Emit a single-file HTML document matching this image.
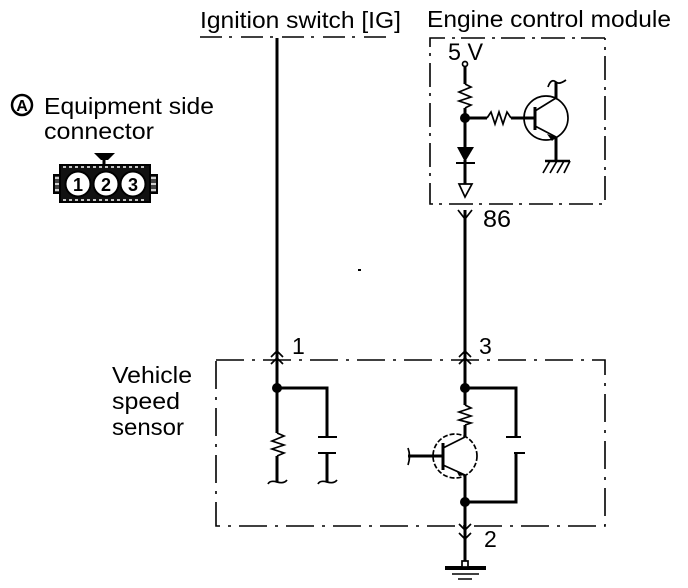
<!DOCTYPE html>
<html><head><meta charset="utf-8"><style>
html,body{margin:0;padding:0;background:#fff}
svg{display:block}
text{font-family:"Liberation Sans",sans-serif;fill:#000;font-size:23px}
</style></head><body>
<svg width="688" height="588" viewBox="0 0 688 588" xmlns="http://www.w3.org/2000/svg">
<text x="200" y="28" textLength="201" lengthAdjust="spacingAndGlyphs">Ignition switch [IG]</text>
<text x="427" y="27" textLength="244" lengthAdjust="spacingAndGlyphs">Engine control module</text>
<text x="44" y="114" textLength="170" lengthAdjust="spacingAndGlyphs">Equipment side</text>
<text x="44" y="139" textLength="110" lengthAdjust="spacingAndGlyphs">connector</text>
<text x="448" y="60" textLength="35" lengthAdjust="spacingAndGlyphs" style="font-size:24px">5 V</text>
<text x="483" y="227" textLength="28" lengthAdjust="spacingAndGlyphs" style="font-size:24px">86</text>
<text x="292" y="354">1</text>
<text x="479" y="354">3</text>
<text x="484" y="547">2</text>
<text x="112" y="383" textLength="80" lengthAdjust="spacingAndGlyphs">Vehicle</text>
<text x="112" y="409" textLength="68" lengthAdjust="spacingAndGlyphs">speed</text>
<text x="112" y="435" textLength="72" lengthAdjust="spacingAndGlyphs">sensor</text>

<!-- circled A -->
<circle cx="22" cy="105" r="10" fill="#fff" stroke="#000" stroke-width="2.5"/>
<text x="22" y="111" text-anchor="middle" style="font-size:16px;font-weight:bold">A</text>

<!-- connector -->
<path d="M60 165H150V202H60Z" fill="#111" stroke="#000" stroke-width="2"/>
<path d="M54 175H60V193H54ZM150 175H157V193H150Z" fill="#444" stroke="#000" stroke-width="2"/>
<path d="M94 153H115L108 160H101Z" fill="#000"/>
<path d="M104 160V166" stroke="#000" stroke-width="3"/>
<path d="M63 167H147M63 200H147" stroke="#fff" stroke-width="1.5" stroke-dasharray="3 3"/>
<path d="M55 178H59M55 184H59M55 190H59M151 178H156M151 184H156M151 190H156" stroke="#fff" stroke-width="1.5"/>
<circle cx="78" cy="184" r="12.5" fill="#fff" stroke="#000" stroke-width="2"/>
<circle cx="106" cy="184" r="12.5" fill="#fff" stroke="#000" stroke-width="2"/>
<circle cx="133" cy="184" r="12.5" fill="#fff" stroke="#000" stroke-width="2"/>
<text x="78" y="191" text-anchor="middle" style="font-size:18px;font-weight:bold">1</text>
<text x="106" y="191" text-anchor="middle" style="font-size:18px;font-weight:bold">2</text>
<text x="133" y="191" text-anchor="middle" style="font-size:18px;font-weight:bold">3</text>

<!-- dashed boxes -->
<g fill="none" stroke="#000" stroke-width="1.6">
<path d="M200 37H390" stroke-dasharray="22 7 3 9"/>
<path d="M605 38H430V204H605V38" stroke-dasharray="24 6 3 7"/>
<path d="M216 360H605V526H216V360" stroke-dasharray="28 8 3 8"/>
</g>

<!-- main wires -->
<g fill="none" stroke="#000" stroke-width="3">
<path d="M277 38V433M277 456V482"/>
<path d="M277 388H327V437M327 453V482"/>
<path d="M318 437H337M318 453H336" stroke-width="2"/>
<path d="M465 66V84M465 108V147M465 160V184"/>
<path d="M465 210V405M465 425V437M465 475V566"/>
<path d="M465 388H516V437M516 453V502H465"/>
<path d="M506 437H521M514 453H525" stroke-width="2"/>
<path d="M465 118H487M511 118H535"/>
<path d="M535 107V130"/>
<path d="M556 98V82M556 137V160"/>
<path d="M408 456H443M443 443V470"/>
<path d="M445 568H486" stroke-width="4"/>
<path d="M452 574H479M458 579H472" stroke-width="1.6"/>
</g>

<!-- thin details -->
<g fill="none" stroke="#000" stroke-width="1.7">
<path d="M277 433L284 436L272 441L284 445L272 449L284 453L277 456"/>
<path d="M465 84L471 87L459 92L471 97L459 101L471 105L465 108"/>
<path d="M465 405L471 408L459 412L471 416L459 420L471 423L465 425"/>
<path d="M487 118L491 112L495 124L499 112L503 124L507 112L511 118"/>
<circle cx="546" cy="118" r="22"/>
<path d="M535 111L556 98M535 126L556 137"/>
<circle cx="455" cy="456" r="22" stroke-dasharray="5 2"/>
<path d="M443 448L465 437M443 465L465 475"/>
<path d="M548 87Q551 78 556 82Q559 85 566 80"/>
<path d="M545 161H570" stroke-width="2.5"/>
<path d="M550 161L543 173M557 161L550 173M564 161L557 173M570 161L564 173"/>
<path d="M268 484Q270 480 277 482Q284 484 287 480M318 484Q320 480 327 482Q334 484 337 480"/>
<path d="M408 448Q411 456 408 465"/>
<circle cx="465" cy="64" r="2.5"/>
<path d="M459 184H472L465 197Z"/>
<path d="M458 210L465 219L472 210"/>
<path d="M271 357L277 351L283 357M271 364L277 358L283 364"/>
<path d="M459 357L465 351L471 357M459 364L465 358L471 364"/>
<path d="M459 524L465 530L471 524M459 533L465 539L471 533"/>
<rect x="462" y="561" width="6" height="6" fill="#fff"/>
</g>

<!-- filled -->
<g fill="#000">
<circle cx="277" cy="388" r="5"/>
<circle cx="465" cy="388" r="5"/>
<circle cx="465" cy="502" r="5"/>
<circle cx="465" cy="118" r="5"/>
<path d="M457 147H474L465 162Z"/>
<path d="M456 162H475V164H456Z"/>
<path d="M547 134L556 137L552 141Z"/>
<path d="M456 470L465 475L459 476Z"/>
<rect x="358" y="269" width="3" height="2"/>
</g>
</svg>
</body></html>
